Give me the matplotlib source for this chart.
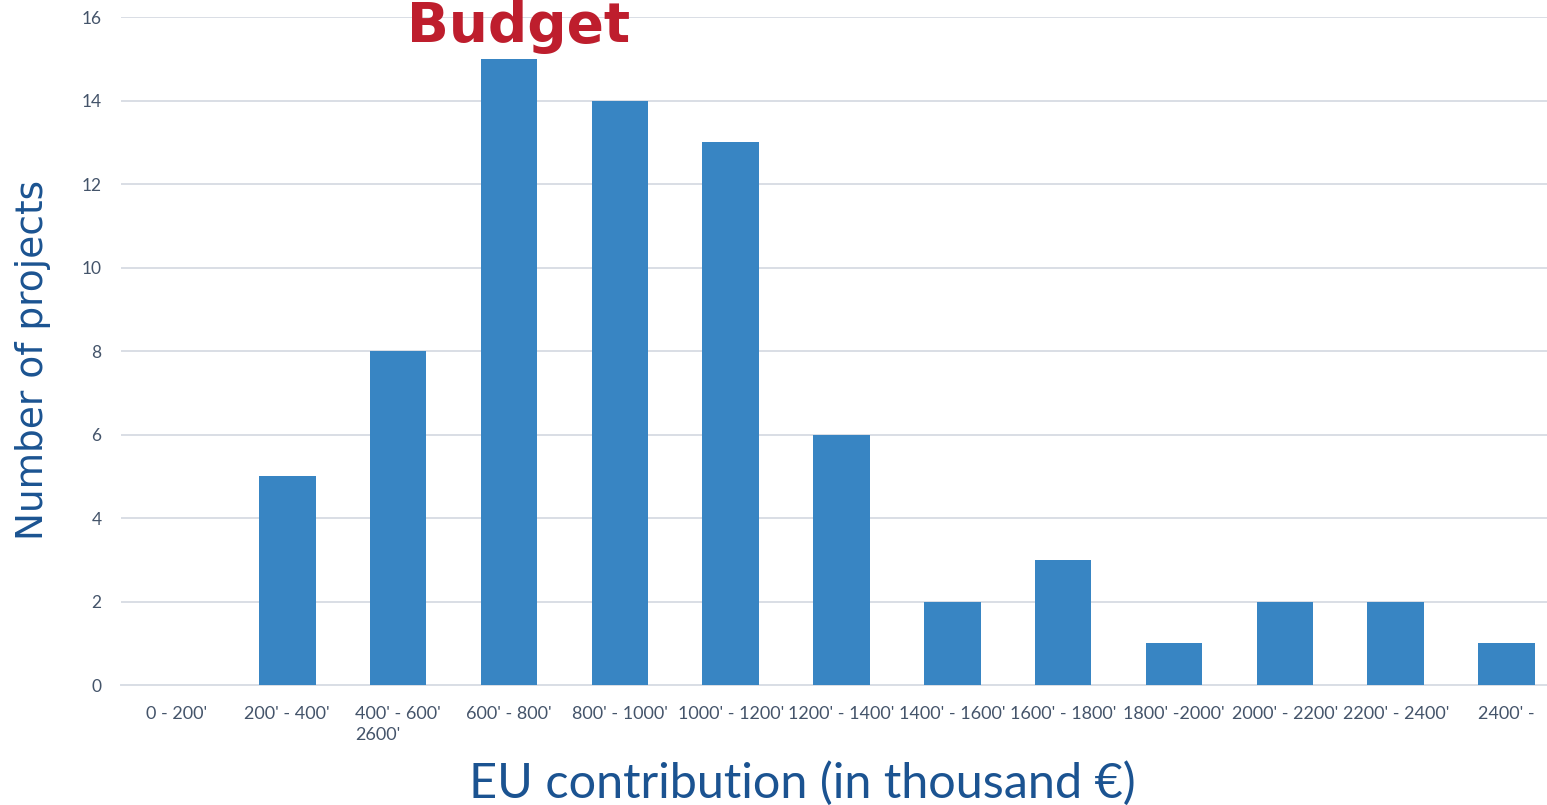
import matplotlib
matplotlib.use("Agg")
import matplotlib.pyplot as plt

categories = ["0 - 200'", "200' - 400'", "400' - 600'\n2600'", "600' - 800'", "800' - 1000'",
              "1000' - 1200'", "1200' - 1400'", "1400' - 1600'", "1600' - 1800'", "1800' -2000'",
              "2000' - 2200'", "2200' - 2400'", "2400' -"]
counts = [0, 5, 8, 15, 14, 13, 6, 2, 3, 1, 2, 2, 1]
yticks = [0, 2, 4, 6, 8, 10, 12, 14, 16]

W, H = 1547, 805
fig = plt.figure(figsize=(W / 100, H / 100), dpi=100)
ax = fig.add_axes([121 / W, 1 - 685 / H, 1441 / W, 668 / H])

x = list(range(len(categories)))
ax.bar(x, counts, width=0.51, color="#3885C3", zorder=3)
ax.set_xlim(-0.5, len(categories) - 0.5)
ax.set_ylim(0, 16)
ax.set_yticks(yticks)
ax.set_yticklabels([str(v) for v in yticks], fontsize=12.5, color="#44546A", family="Lato")
ax.set_xticks(x)
labs = ax.set_xticklabels(categories, fontsize=13, color="#44546A", family="Lato")
for lb in labs:
    lb.set_linespacing(1.4)
labs[2].set_multialignment("left")
ax.grid(axis="y", color="#D9DEE5", linewidth=1.4, zorder=0)
for s in ["top", "right", "left"]:
    ax.spines[s].set_visible(False)
ax.spines["bottom"].set_color("#D9DEE5")
ax.spines["bottom"].set_linewidth(1.4)
ax.tick_params(axis="both", length=0)
ax.tick_params(axis="y", pad=14)
ax.tick_params(axis="x", pad=15)

fig.text(33 / W, 1 - 360 / H, "Number of projects", rotation=90, ha="center", va="center",
         fontsize=27, color="#1B5391", family="DejaVu Sans")
fig.text(802 / W, 1 - 783 / H, "EU contribution (in thousand €)", ha="center", va="center",
         fontsize=35, color="#1B5391", family="Lato")
fig.text(519 / W, 1 - 42 / H, "Budget", ha="center", va="baseline", fontsize=39.5,
         fontweight="bold", color="#BE1E2D", family="DejaVu Sans")

fig.savefig("out.png", dpi=100)
